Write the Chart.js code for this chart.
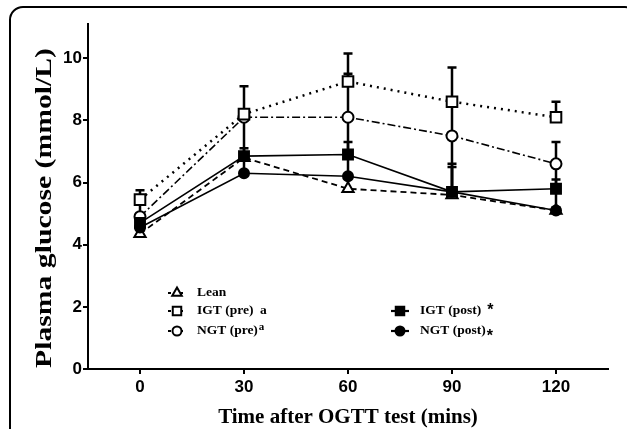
<!DOCTYPE html>
<html>
<head>
<meta charset="utf-8">
<script src="https://cdn.jsdelivr.net/npm/chart.js@4.4.0/dist/chart.umd.min.js"></script>
<style>
  html, body { margin: 0; padding: 0; background: #fff; overflow: hidden; }
  #wrap { position: relative; width: 627px; height: 429px; overflow: hidden; }
  #frame { position: absolute; left: 9px; top: 6px; width: 622px; height: 500px;
           border: 2px solid #000; border-radius: 14px 10px 0 0; }
  canvas { position: absolute; left: 0; top: 0; }
</style>
</head>
<body>
<div id="wrap">
  <div id="frame"></div>
  <canvas id="chart" width="627" height="429"></canvas>
</div>
<script>
// time points (mins)
const times = [0, 30, 60, 90, 120];

// mean plasma glucose (mmol/L)
const lean    = [4.35, 6.8, 5.8, 5.6, 5.1];
const igtPre  = [5.45, 8.2, 9.25, 8.6, 8.1];
const ngtPre  = [4.9, 8.1, 8.1, 7.5, 6.6];
const igtPost = [4.7, 6.85, 6.9, 5.7, 5.8];
const ngtPost = [4.55, 6.3, 6.2, 5.7, 5.1];

// error (upper bar only)
const leanErr    = [0.3, 0.3, 0.4, 1.0, 0.1];
const igtPreErr  = [0.3, 0.9, 0.9, 1.1, 0.5];
const ngtPreErr  = [0.5, 0.1, 1.4, 1.1, 0.7];
const igtPostErr = [0.2, 1.3, 0.4, 0.8, 0.3];
const ngtPostErr = [0.35, 0.5, 1.9, 1.8, 1.5];

const xTicks = [0, 30, 60, 90, 120];
const yTicks = [0, 2, 4, 6, 8, 10];

const xTitle = "Time after OGTT test (mins)";
const yTitle = "Plasma glucose (mmol/L)";

const series = [
  { label: "Lean", values: lean, err: leanErr, style: "triangle", radius: 6.5, fill: "#fff", dash: [6, 4], width: 1.8, order: 2 },
  { label: "IGT (pre)", values: igtPre, err: igtPreErr, style: "rect", radius: 7.5, fill: "#fff", dash: [2, 5], width: 2.5, order: 1 },
  { label: "NGT (pre)", values: ngtPre, err: ngtPreErr, style: "circle", radius: 5.5, fill: "#fff", dash: [8, 3, 2, 3], width: 1.6, order: 1 },
  { label: "IGT (post)", values: igtPost, err: igtPostErr, style: "rect", radius: 7, fill: "#000", dash: [], width: 1.6, order: 0 },
  { label: "NGT (post)", values: ngtPost, err: ngtPostErr, style: "circle", radius: 5, fill: "#000", dash: [], width: 1.6, order: 0 }
];

const datasets = series.map(s => ({
  label: s.label,
  data: s.values.map((v, i) => ({ x: times[i], y: v })),
  borderColor: "#000",
  borderWidth: s.width,
  borderDash: s.dash,
  pointStyle: s.style,
  pointRadius: s.radius,
  pointBackgroundColor: s.fill,
  pointBorderColor: "#000",
  pointBorderWidth: 2,
  tension: 0,
  order: s.order
}));

function marker(ctx, s, x, y, r) {
  ctx.save();
  ctx.fillStyle = s.fill;
  ctx.strokeStyle = "#000";
  ctx.lineWidth = 2;
  ctx.setLineDash([]);
  Chart.helpers.drawPoint(ctx, { pointStyle: s.style, radius: r, borderWidth: 2, rotation: 0 }, x, y);
  ctx.restore();
}

const extras = {
  id: "extras",
  beforeDatasetsDraw(chart) {
    const ctx = chart.ctx, xs = chart.scales.x, ys = chart.scales.y;
    ctx.save();
    ctx.strokeStyle = "#000";
    ctx.lineWidth = 2.5;
    ctx.setLineDash([]);
    series.forEach(s => {
      s.values.forEach((v, i) => {
        const x = xs.getPixelForValue(times[i]);
        const y0 = ys.getPixelForValue(v);
        const y1 = ys.getPixelForValue(v + s.err[i]);
        ctx.beginPath();
        ctx.moveTo(x, y0); ctx.lineTo(x, y1);
        ctx.moveTo(x - 4.5, y1); ctx.lineTo(x + 4.5, y1);
        ctx.stroke();
      });
    });
    ctx.restore();
  },
  afterDraw(chart) {
    const ctx = chart.ctx, a = chart.chartArea;
    ctx.save();
    ctx.fillStyle = "#000";
    // axis titles
    ctx.font = 'bold 21px "Liberation Serif"';
    ctx.textAlign = "center";
    ctx.textBaseline = "middle";
    ctx.fillText(xTitle, (a.left + a.right) / 2, 418);
    ctx.save();
    ctx.font = 'bold 24px "Liberation Serif"';
    ctx.translate(45, 208);
    ctx.rotate(-Math.PI / 2);
    const w = ctx.measureText(yTitle).width;
    ctx.scale(320 / w, 1);
    ctx.fillText(yTitle, 0, 0);
    ctx.restore();

    // legend
    const rows = [
      { s: series[0], x: a.left + 89, y: 293, text: "Lean" },
      { s: series[1], x: a.left + 89, y: 311, text: "IGT (pre)  a" },
      { s: series[2], x: a.left + 89, y: 331, text: "NGT (pre)", sup: "a" },
      { s: series[3], x: a.left + 312, y: 311, text: "IGT (post)", star: "up" },
      { s: series[4], x: a.left + 312, y: 331, text: "NGT (post)", star: "down" }
    ];
    rows.forEach(r => {
      const s = r.s;
      ctx.save();
      ctx.strokeStyle = "#000";
      ctx.lineWidth = s.dash.length ? 1.8 : 2.2;
      ctx.setLineDash(s.dash.length ? [3, 3] : []);
      ctx.beginPath();
      ctx.moveTo(r.x - 9, r.y); ctx.lineTo(r.x + 9, r.y);
      ctx.stroke();
      ctx.restore();
      marker(ctx, s, r.x, r.y, s.style === "rect" ? 6 : s.style === "triangle" ? 5.5 : 4.5);

      ctx.textAlign = "left";
      ctx.textBaseline = "middle";
      ctx.font = 'bold 13.5px "Liberation Serif"';
      const tx = r.x + 20;
      ctx.fillText(r.text, tx, r.y);
      const tw = ctx.measureText(r.text).width;
      if (r.sup) {
        ctx.font = 'bold 11px "Liberation Serif"';
        ctx.fillText(r.sup, tx + tw + 1, r.y - 4);
      }
      if (r.star === "up") {
        ctx.font = 'bold 16px "Liberation Sans"';
        ctx.fillText("*", tx + tw + 6, r.y);
      }
      if (r.star === "down") {
        ctx.font = 'bold 16px "Liberation Sans"';
        ctx.fillText("*", tx + tw + 1, r.y + 6);
      }
    });
    ctx.restore();
  }
};

new Chart(document.getElementById("chart"), {
  type: "line",
  data: { datasets },
  options: {
    responsive: false,
    animation: false,
    devicePixelRatio: 1,
    layout: { padding: { left: 0, top: 24, right: 19, bottom: 0 } },
    plugins: { legend: { display: false }, tooltip: { enabled: false } },
    scales: {
      x: {
        type: "linear",
        min: -15,
        max: 135,
        afterBuildTicks: sc => { sc.ticks = xTicks.map(v => ({ value: v })); },
        afterFit: sc => { sc.height = 60; },
        border: { display: true, color: "#000", width: 2 },
        grid: { display: true, drawOnChartArea: false, drawTicks: true, tickLength: 5, color: "#000", lineWidth: 2 },
        ticks: { color: "#000", padding: 3, maxRotation: 0, font: { family: '"Liberation Sans"', size: 17, weight: "bold" } }
      },
      y: {
        type: "linear",
        min: 0,
        max: 11.1,
        afterBuildTicks: sc => { sc.ticks = yTicks.map(v => ({ value: v })); },
        afterFit: sc => { sc.width = 88; },
        border: { display: true, color: "#000", width: 2 },
        grid: { display: true, drawOnChartArea: false, drawTicks: true, tickLength: 5, color: "#000", lineWidth: 2 },
        ticks: { color: "#000", padding: 1, font: { family: '"Liberation Sans"', size: 17, weight: "bold" } }
      }
    }
  },
  plugins: [extras]
});
</script>
</body>
</html>
